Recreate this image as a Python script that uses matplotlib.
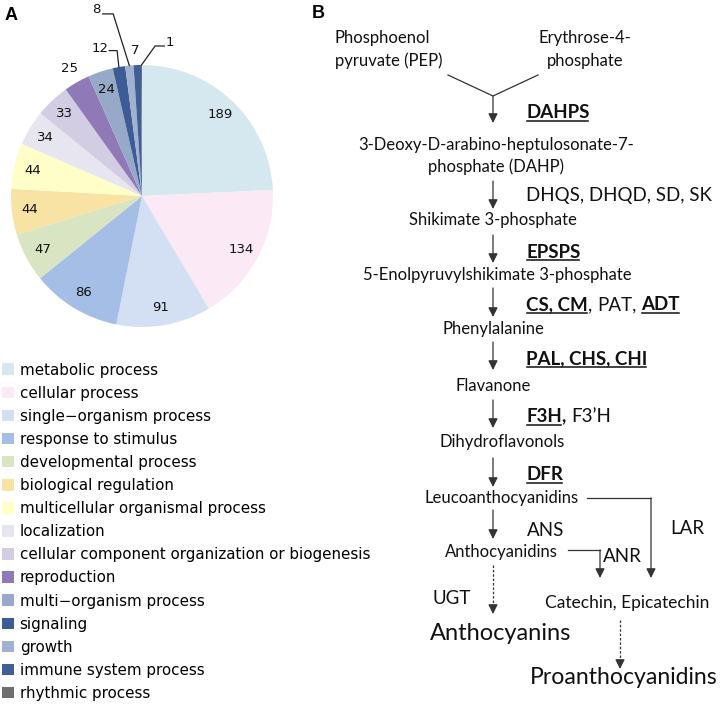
import matplotlib
matplotlib.use("Agg")
import matplotlib.pyplot as plt
import numpy as np
from matplotlib.patches import Patch

categories = ["metabolic process", "cellular process", "single\u2212organism process",
              "response to stimulus", "developmental process", "biological regulation",
              "multicellular organismal process", "localization",
              "cellular component organization or biogenesis", "reproduction",
              "multi\u2212organism process", "signaling", "growth",
              "immune system process", "rhythmic process"]
counts = [189, 134, 91, 86, 47, 44, 44, 34, 33, 25, 24, 12, 8, 7, 1]
colors = ["#d6e8ef", "#fbe9f5", "#d3e0f3", "#a4bee6", "#d8e4c2", "#f8e3a5",
          "#fffec8", "#e7e5ef", "#d2cde3", "#8f79b6", "#97a9c9", "#3d5c96",
          "#a0b2cf", "#3f5f99", "#6d6d6d"]

W, H = 722, 704
fig = plt.figure(figsize=(W / 100, H / 100), dpi=100)

# ---------- Panel B canvas (pixel coordinates) ----------
axb = fig.add_axes([0, 0, 1, 1])
axb.set_xlim(0, W)
axb.set_ylim(H, 0)
axb.axis("off")

# ---------- Panel A: pie ----------
cx, cy, r = 142, 196, 131
axp = fig.add_axes([(cx - r) / W, 1 - (cy + r) / H, 2 * r / W, 2 * r / H])
wedges, _ = axp.pie(counts, colors=colors, startangle=90, counterclock=False,
                    radius=1.0)
axp.set_xlim(-1, 1)
axp.set_ylim(-1, 1)
axp.set_aspect("equal")
axp.axis("off")

lab_font = dict(fontsize=9.5, family="DejaVu Sans", color="#111111")
for w, v in zip(wedges, counts):
    th = np.deg2rad((w.theta1 + w.theta2) / 2)
    ex, ey = np.cos(th), np.sin(th)
    if v >= 24:
        d = 1.12 if v == 25 else 0.86
        axp.text(d * ex, d * ey, str(v), ha="center", va="center", **lab_font)
    elif v == 12:
        axp.text(-0.32, 1.125, str(v), ha="center", va="center", **lab_font)
        axp.plot([-0.25, -0.19, ex], [1.11, 1.11, ey], color="#222", lw=0.9,
                 clip_on=False)
    elif v == 8:
        axp.text(-0.35, 1.42, str(v), ha="center", va="center", **lab_font)
        axp.plot([-0.30, -0.22, ex], [1.39, 1.39, ey], color="#222", lw=0.9,
                 clip_on=False)
    elif v == 7:
        axp.text(-0.05, 1.11, str(v), ha="center", va="center", **lab_font)
    elif v == 1:
        axp.text(0.21, 1.17, str(v), ha="center", va="center", **lab_font)
        axp.plot([0.17, 0.10, ex], [1.145, 1.145, ey], color="#222", lw=0.9,
                 clip_on=False)

handles = [Patch(facecolor=c, edgecolor="none") for c in colors]
fig.legend(handles, categories, loc="upper left", bbox_to_anchor=(0.0, 1 - 361 / H),
           frameon=False, handlelength=0.8, handleheight=0.8,
           handletextpad=0.4, labelspacing=0.535, borderaxespad=0, borderpad=0.1,
           prop=dict(family="DejaVu Sans", size=10.9))

# Panel letters
axb.text(5, 15, "A", fontsize=13, fontweight="bold", family="Liberation Sans",
         ha="left", va="center")
axb.text(312, 14, "B", fontsize=13, fontweight="bold", family="Liberation Sans",
         ha="left", va="center")

FONT = "Lato"
SMALL = 12
ENZ = 13.5
BIG = 17
col = "#111111"

def t(x, y, s, size=SMALL, ha="center", bold=False):
    return axb.text(x, y, s, fontsize=size, ha=ha, va="center", family=FONT,
                    fontweight="bold" if bold else "normal", color=col)

# Metabolites
t(335, 38, "Phosphoenol", ha="left")
t(335, 61, "pyruvate (PEP)", ha="left")
t(585, 38, "Erythrose-4-")
t(585, 61, "phosphate")
t(496, 145, "3-Deoxy-D-arabino-heptulosonate-7-")
t(496, 167, "phosphate (DAHP)")
t(493, 220, "Shikimate 3-phosphate")
t(497, 275, "5-Enolpyruvylshikimate 3-phosphate")
t(493, 329, "Phenylalanine")
t(493, 386, "Flavanone")
t(502, 442, "Dihydroflavonols")
t(502, 498, "Leucoanthocyanidins")
t(501, 552, "Anthocyanidins")
t(627, 603, "Catechin, Epicatechin", size=12.5)
t(501, 633, "Anthocyanins", size=BIG)
t(624, 678, "Proanthocyanidins", size=16.6)

# Enzymes (segments: text, bold, underline, gap-before)
enzymes = [
    (113, [("DAHPS", True, True, 0)]),
    (196, [("DHQS, DHQD, SD, SK", False, False, 0)]),
    (252, [("EPSPS", True, True, 0)]),
    (305, [("CS, CM", True, True, 0), (",", False, False, 0),
           ("PAT,", False, False, 5), ("ADT", True, True, 5)]),
    (359, [("PAL, CHS, CHI", True, True, 0)]),
    (417, [("F3H", True, True, 0), (",", True, False, 0),
           ("F3\u2019H", False, False, 5)]),
    (475, [("DFR", True, True, 0)]),
]
fig.canvas.draw()
renderer = fig.canvas.get_renderer()
inv = axb.transData.inverted()
for y, segs in enzymes:
    x = 526
    for s, b, u, gap in segs:
        x += gap
        tx = t(x, y, s, size=ENZ, ha="left", bold=b)
        bb = tx.get_window_extent(renderer)
        (x0, y0), (x1, y1) = inv.transform([[bb.x0, bb.y0], [bb.x1, bb.y1]])
        if u:
            axb.plot([x0 + 1, x1 - 1], [y + 8, y + 8], color=col, lw=1.1)
        x = x1

t(527, 530, "ANS", size=ENZ, ha="left")
t(670, 528, "LAR", size=ENZ, ha="left")
t(603, 556, "ANR", size=ENZ, ha="left")
t(433, 599, "UGT", size=ENZ, ha="left")

# Arrows
lc = "#333333"
def arrow(x0, y0, x1, y1):
    axb.annotate("", xy=(x1, y1), xytext=(x0, y0),
                 arrowprops=dict(arrowstyle="-|>", color=lc, lw=0.9,
                                 mutation_scale=14, shrinkA=0, shrinkB=0))

def dashed_arrow(x0, y0, x1, y1):
    axb.plot([x0, x1], [y0, y1 - 6], color=lc, lw=0.9, ls=(0, (2, 1.5)))
    arrow(x1, y1 - 8, x1, y1)

axb.plot([448, 493, 538], [75, 96, 75], color=lc, lw=0.9)
arrow(493, 96, 493, 123)
arrow(493, 181, 493, 209)
arrow(493, 235, 493, 263)
arrow(493, 288, 493, 317)
arrow(493, 342, 493, 370)
arrow(493, 400, 493, 428)
arrow(493, 458, 493, 487)
arrow(493, 510, 493, 539)
axb.plot([587, 651], [498, 498], color=lc, lw=0.9)
arrow(651, 498, 651, 578)
axb.plot([568, 600], [550, 550], color=lc, lw=0.9)
arrow(600, 550, 600, 578)
dashed_arrow(493, 565, 493, 614)
dashed_arrow(620, 620, 620, 669)

fig.savefig("out.png", dpi=100)
